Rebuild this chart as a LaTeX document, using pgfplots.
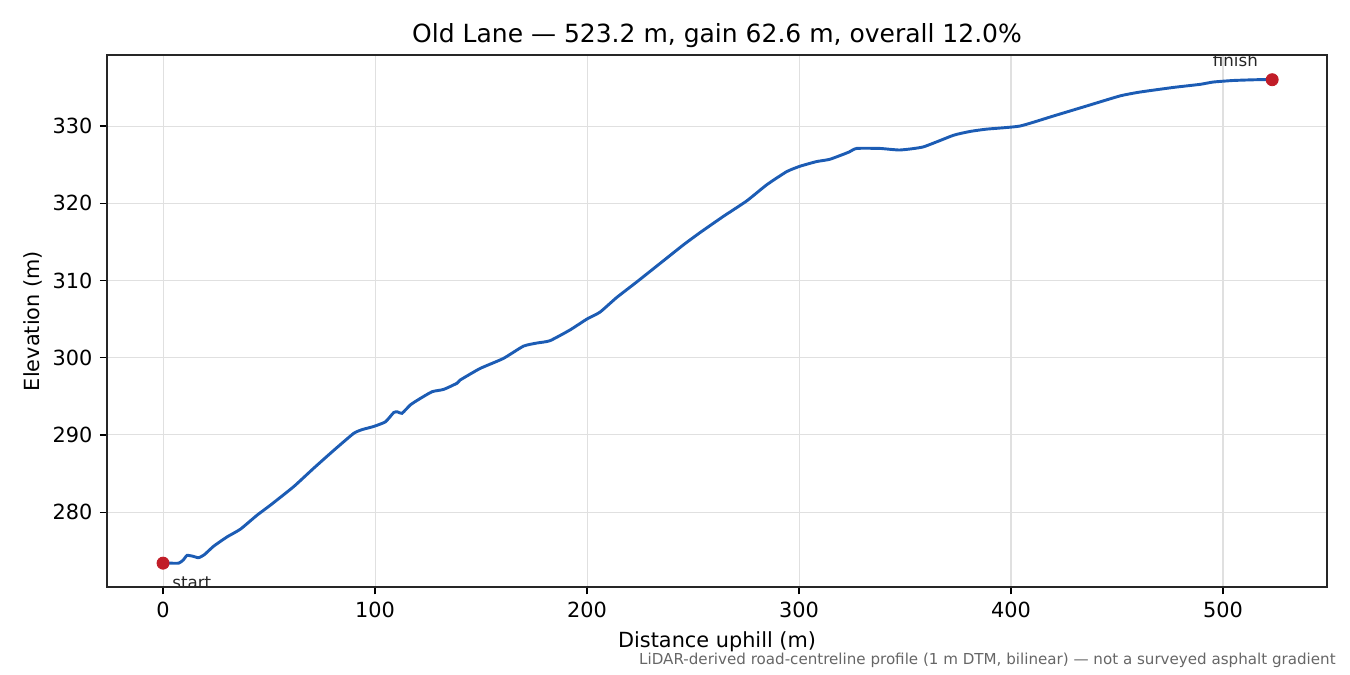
\documentclass[border=0pt]{standalone}
\usepackage{pgfplots}
\pgfplotsset{compat=1.18}
\usepackage{fontspec}
\setmainfont{DejaVu Sans}

\definecolor{profile}{RGB}{28,92,180}
\definecolor{endpt}{RGB}{193,29,40}

\begin{document}
\begin{tikzpicture}
\begin{axis}[
  scale only axis,
  width=585.6pt, height=255.4pt,
  xmin=-26.4, xmax=549.1,
  ymin=270.3, ymax=339.2,
  xtick={0,100,200,300,400,500},
  ytick={280,290,300,310,320,330},
  tick align=outside,
  xtick pos=bottom, ytick pos=left,
  major tick length=3.5pt,
  tick style={line width=0.6pt, black},
  axis line style={line width=0.6pt, black!85},
  grid=major,
  major grid style={line width=0.5pt, black!12},
  /pgf/number format/assume math mode=true,
  ticklabel style={font=\fontsize{10}{12}\selectfont},
  label style={font=\fontsize{10}{12}\selectfont},
  xlabel={Distance uphill (m)},
  ylabel={Elevation (m)},
  ylabel style={yshift=-2pt},
  title={Old Lane — 523.2 m, gain 62.6 m, overall 12.0\%},
  every axis title shift=0pt,
  title style={font=\fontsize{12}{14}\selectfont, at={(0.5,1)}, anchor=base, yshift=6.2pt, inner sep=0pt},
]
% elevation profile
\addplot[profile, line width=1.4pt, smooth, tension=0.3] coordinates {
  (0,273.4) (3,273.4) (7.4,273.4) (9.5,273.8) (11.3,274.4) (14,274.3)
  (16.8,274.1) (19.5,274.5) (23.9,275.6) (30.2,276.8) (36.5,277.8)
  (44.3,279.6) (50.6,280.9) (61.6,283.3) (71.1,285.7) (80.5,288.0)
  (89.9,290.2) (94,290.7) (99.4,291.1) (104.9,291.7) (108.8,292.9)
  (110.5,293.0) (112.7,292.8) (116.7,293.9) (120.6,294.6) (126.9,295.6)
  (132.4,295.9) (138.7,296.7) (140.1,297.1) (149.5,298.6) (160.5,299.9)
  (170.0,301.5) (176.3,301.9) (182.5,302.2) (192.0,303.6) (199.9,305.0)
  (206.1,305.9) (214.0,307.8) (223.4,309.8) (234.4,312.2) (245.4,314.6)
  (253.3,316.2) (264.3,318.3) (275.3,320.3) (284.8,322.4) (294.2,324.1)
  (300.5,324.8) (308.3,325.4) (314.6,325.7) (323.3,326.6) (327.2,327.1)
  (338.2,327.1) (347.6,326.9) (358.6,327.3) (372.8,328.8) (380.7,329.3)
  (388.5,329.6) (404.2,330.0) (420.0,331.3) (435.7,332.6) (451.4,333.9)
  (460.8,334.4) (476.6,335.0) (489.2,335.4) (495.4,335.7) (504.9,335.9)
  (515.9,336.0) (523.2,336.0)
};
\addplot[only marks, mark=*, mark size=2.9pt, color=endpt, mark options={draw=endpt, fill=endpt}]
  coordinates {(0,273.4) (523.2,336.0)};
\node[anchor=base west, inner sep=0pt, font=\fontsize{8}{10}\selectfont, text=black!85, xshift=4.3pt, yshift=-12pt]
  at (axis cs:0,273.4) {start};
\node[anchor=base east, inner sep=0pt, font=\fontsize{8}{10}\selectfont, text=black!85, xshift=-6.7pt, yshift=6.2pt]
  at (axis cs:523.2,336.0) {finish};
\coordinate (sw) at (rel axis cs:0,0);
\coordinate (ne) at (rel axis cs:1,1);
\coordinate (se) at (rel axis cs:1,0);
\end{axis}
\node[anchor=base east, font=\fontsize{7.25}{9}\selectfont, text=black!60, inner sep=0pt]
  at ([shift={(4.3pt,-37pt)}]se) {LiDAR-derived road-centreline profile (1 m DTM, bilinear) — not a surveyed asphalt gradient};
\pgfresetboundingbox
\path ([shift={(-51.4pt,-42.2pt)}]sw) rectangle ([shift={(11pt,26.4pt)}]ne);
\end{tikzpicture}
\end{document}
